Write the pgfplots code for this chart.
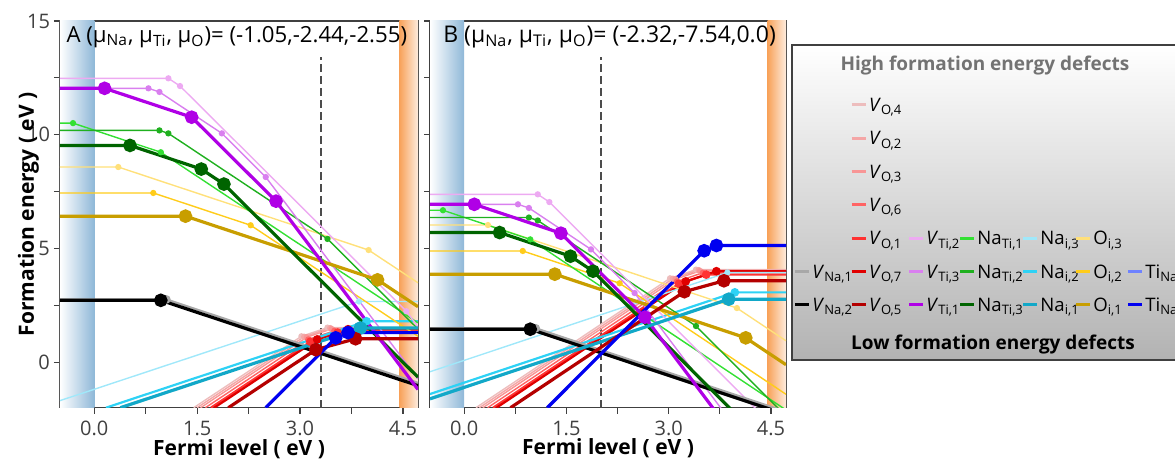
\documentclass[border=0pt]{standalone}
\usepackage{fontspec}
\setmainfont{Open Sans}
\usepackage{pgfplots}
\pgfplotsset{compat=1.18}
\definecolor{vo4}{HTML}{EDBDBD}
\definecolor{vo2}{HTML}{F4A6A6}
\definecolor{vo3}{HTML}{F89696}
\definecolor{vo6}{HTML}{FF6464}
\definecolor{vo1}{HTML}{FF3232}
\definecolor{vo7}{HTML}{E00000}
\definecolor{vo5}{HTML}{B40000}
\definecolor{vti2}{HTML}{EDAAF2}
\definecolor{vti3}{HTML}{D97FEF}
\definecolor{vti1}{HTML}{B000E6}
\definecolor{nati1}{HTML}{33E033}
\definecolor{nati2}{HTML}{1FB01F}
\definecolor{nati3}{HTML}{006400}
\definecolor{nai3}{HTML}{A0E8FA}
\definecolor{nai2}{HTML}{2ED2F5}
\definecolor{nai1}{HTML}{12A8C8}
\definecolor{oi3}{HTML}{FFE07A}
\definecolor{oi2}{HTML}{FFCC1A}
\definecolor{oi1}{HTML}{C89E00}
\definecolor{tina2}{HTML}{6E82FF}
\definecolor{tina1}{HTML}{0000F0}
\definecolor{vna1}{HTML}{A8A8A8}
\definecolor{bandblue}{HTML}{8FB8D8}
\definecolor{bandorange}{HTML}{F8A25A}
\definecolor{framegray}{HTML}{404040}
\tikzset{dashv/.style={black!70, line width=1pt, dash pattern=on 4pt off 2pt}}
\pgfplotsset{
  tl/.style={line width=0.7pt, mark=*, mark size=1.2pt, mark options={solid}},
  md/.style={line width=1.1pt, mark=*, mark size=1.6pt, mark options={solid}},
  tk/.style={line width=1.6pt, mark=*, mark size=2.6pt, mark options={solid}},
  panel/.style={
    anchor=south west, scale only axis, height=193.35pt,
    xmin=-0.5, xmax=4.72, ymin=-2, ymax=15, clip=true,
    axis line style={framegray, line width=0.75pt},
    tick style={framegray, line width=0.6pt}, tick align=outside, tick pos=left,
    major tick length=3pt,
    xtick={0,0.75,1.5,2.25,3,3.75,4.5}, xticklabels={0.0,{},1.5,{},3.0,{},4.5},
    ytick={0,2.5,5,7.5,10,12.5,15},
    ticklabel style={font=\fontsize{10}{11}\selectfont, text=framegray},
    yticklabel style={xshift=1.5pt},
    /pgf/number format/assume math mode=true,
    xlabel={\textbf{Fermi level ( eV )}},
    label style={font=\fontsize{10.5}{12}\selectfont},
    xlabel style={at={(axis description cs:0.5,-0.106)}, anchor=center},
  },
}
\newcommand{\legfont}{\fontsize{9.3}{10}\selectfont}
\newcommand{\lent}[4]{\draw[#3, line width=1.5pt] (#1,#2) -- ++(14,0); \node[anchor=base west, inner sep=0pt, font=\legfont] at (#1+17,#2+6.5) {#4};}
\begin{document}
\begin{tikzpicture}
\useasboundingbox (0,0) rectangle (587.5pt,229.5pt);
% ---------------- Panel A ----------------
\begin{axis}[panel, at={(30pt,25.65pt)}, width=179pt,
  yticklabels={0,{},5,{},10,{},15},
  ylabel={\textbf{Formation energy ( eV )}},
  ylabel style={at={(axis description cs:-0.088,0.5)}, anchor=center, rotate=0},
]
\fill[left color=white, right color=bandblue] (axis cs:-0.5,-2) rectangle (axis cs:0,15);
\fill[left color=bandorange, right color=bandorange!20] (axis cs:4.45,-2) rectangle (axis cs:4.72,15);
\draw[dashv] (axis cs:3.30,-2) -- (axis cs:3.30,13.4);
% thin
\addplot[tl, color=vo4, mark indices={2,3}] coordinates {(1.45,-2)(3.02,1.14)(3.40,1.52)(4.72,1.52)};
\addplot[tl, color=vo2, mark indices={2,3}] coordinates {(1.50,-2)(3.06,1.12)(3.44,1.50)(4.72,1.50)};
\addplot[tl, color=vo3, mark indices={2,3}] coordinates {(1.55,-2)(3.10,1.10)(3.46,1.46)(4.72,1.46)};
\addplot[tl, color=vo6, mark indices={2,3}] coordinates {(1.62,-2)(3.12,1.00)(3.50,1.38)(4.72,1.38)};
\addplot[md, color=vo1, mark indices={2,3}] coordinates {(1.70,-2)(3.15,0.90)(3.55,1.30)(4.72,1.30)};
\addplot[md, color=vo7, mark indices={2,3}] coordinates {(1.75,-2)(3.25,1.00)(3.70,1.45)(4.72,1.45)};
\addplot[tl, color=nai3, mark indices={2}] coordinates {(-0.5,-1.69)(3.86,2.67)(4.72,2.67)};
\addplot[md, color=nai2, mark indices={2}] coordinates {(0.17,-2)(3.97,1.80)(4.72,1.80)};
\addplot[tl, color=oi3, mark indices={2,3}] coordinates {(-0.5,8.58)(0.35,8.58)(4.0,4.93)(4.72,3.49)};
\addplot[tl, color=oi2, mark indices={2,3}] coordinates {(-0.5,7.44)(0.86,7.44)(2.28,6.02)(4.72,1.14)};
\addplot[tl, color=nati1, mark indices={2,3}] coordinates {(-0.5,10.51)(-0.31,10.51)(0.97,9.23)(4.72,1.73)};
\addplot[tl, color=nati2, mark indices={2,3,4}] coordinates {(-0.5,10.19)(0.95,10.19)(1.08,10.06)(3.40,5.42)(4.72,1.46)};
\addplot[tl, color=vti2, mark indices={2,3,4}] coordinates {(-0.5,12.48)(1.08,12.48)(1.25,12.14)(4.55,2.24)(4.72,1.56)};
\addplot[tl, color=vti3, mark indices={2,3,4,5}] coordinates {(-0.5,12.04)(0.79,12.04)(0.95,11.88)(1.86,10.06)(2.5,8.14)(4.72,-0.74)};
\addplot[md, color=vna1, mark indices={2}] coordinates {(-0.5,2.76)(1.05,2.76)(4.72,-0.91)};
\addplot[md, color=tina2, mark indices={2,3}] coordinates {(2.5,-2)(3.52,1.07)(3.70,1.30)(4.72,1.30)};
% thick
\addplot[tk, color=black, mark indices={2}] coordinates {(-0.5,2.72)(0.97,2.72)(4.72,-1.03)};
\addplot[tk, color=oi1, mark indices={2,3}] coordinates {(-0.5,6.42)(1.33,6.42)(4.13,3.62)(4.72,2.44)};
\addplot[tk, color=nati3, mark indices={2,3,4}] coordinates {(-0.5,9.53)(0.52,9.53)(1.56,8.49)(1.89,7.83)(4.72,-0.66)};
\addplot[tk, color=vti1, mark indices={2,3,4}] coordinates {(-0.5,12.04)(0.15,12.04)(1.42,10.77)(2.65,7.08)(4.72,-1.2)};
\addplot[tk, color=nai1, mark indices={2}] coordinates {(0.38,-2)(3.88,1.50)(4.72,1.50)};
\addplot[tk, color=vo5, mark indices={2,3}] coordinates {(1.955,-2)(3.23,0.55)(3.81,1.03)(4.72,1.03)};
\addplot[tk, color=tina1, mark indices={2,3}] coordinates {(2.5,-2)(3.52,1.07)(3.70,1.30)(4.72,1.30)};
\node[anchor=west, inner sep=0pt, font=\fontsize{11.1}{12}\selectfont] at (axis cs:-0.41,14.3) {A (μ\textsubscript{Na}, μ\textsubscript{Ti}, μ\textsubscript{O})= (-1.05,-2.44,-2.55)};
\end{axis}
% ---------------- Panel B ----------------
\begin{axis}[panel, at={(215pt,25.65pt)}, width=178pt,
  yticklabels={},
]
\fill[left color=white, right color=bandblue] (axis cs:-0.5,-2) rectangle (axis cs:0,15);
\fill[left color=bandorange, right color=bandorange!20] (axis cs:4.45,-2) rectangle (axis cs:4.72,15);
\draw[dashv] (axis cs:2.01,-2) -- (axis cs:2.01,13.4);
% thin
\addplot[tl, color=vo4, mark indices={2,3}] coordinates {(0.175,-2)(3.02,3.69)(3.40,4.07)(4.72,4.07)};
\addplot[tl, color=vo2, mark indices={2,3}] coordinates {(0.225,-2)(3.06,3.67)(3.44,4.05)(4.72,4.05)};
\addplot[tl, color=vo3, mark indices={2,3}] coordinates {(0.275,-2)(3.10,3.65)(3.46,4.01)(4.72,4.01)};
\addplot[tl, color=vo6, mark indices={2,3}] coordinates {(0.345,-2)(3.12,3.55)(3.50,3.93)(4.72,3.93)};
\addplot[md, color=vo1, mark indices={2,3}] coordinates {(0.425,-2)(3.15,3.45)(3.55,3.85)(4.72,3.85)};
\addplot[md, color=vo7, mark indices={2,3}] coordinates {(0.475,-2)(3.25,3.55)(3.70,4.00)(4.72,4.00)};
\addplot[tl, color=nai3, mark indices={2}] coordinates {(-0.5,-0.42)(3.86,3.94)(4.72,3.94)};
\addplot[md, color=nai2, mark indices={2}] coordinates {(-0.5,-1.40)(3.97,3.07)(4.72,3.07)};
\addplot[tl, color=oi3, mark indices={2,3}] coordinates {(-0.5,6.03)(0.35,6.03)(4.0,2.38)(4.72,0.94)};
\addplot[tl, color=oi2, mark indices={2,3}] coordinates {(-0.5,4.89)(0.86,4.89)(2.28,3.47)(4.72,-1.41)};
\addplot[tl, color=nati1, mark indices={2,3}] coordinates {(-0.5,6.68)(-0.31,6.68)(0.97,5.40)(4.72,-2.10)};
\addplot[tl, color=nati2, mark indices={2,3,4}] coordinates {(-0.5,6.36)(0.95,6.36)(1.08,6.23)(3.40,1.59)(4.72,-2.37)};
\addplot[tl, color=vti2, mark indices={2,3}] coordinates {(-0.5,7.38)(1.08,7.38)(1.25,7.04)(4.55,-2.86)(4.72,-3.54)};
\addplot[tl, color=vti3, mark indices={2,3,4,5}] coordinates {(-0.5,6.94)(0.79,6.94)(0.95,6.78)(1.86,4.96)(2.5,3.04)(4.72,-5.84)};
\addplot[md, color=vna1, mark indices={2}] coordinates {(-0.5,1.49)(1.05,1.49)(4.72,-2.18)};
\addplot[md, color=tina2, mark indices={2,3}] coordinates {(1.22,-2)(3.52,4.90)(3.70,5.13)(4.72,5.13)};
% thick
\addplot[tk, color=black, mark indices={2}] coordinates {(-0.5,1.45)(0.97,1.45)(4.72,-2.30)};
\addplot[tk, color=oi1, mark indices={2,3}] coordinates {(-0.5,3.87)(1.33,3.87)(4.13,1.07)(4.72,-0.11)};
\addplot[tk, color=nati3, mark indices={2,3,4}] coordinates {(-0.5,5.70)(0.52,5.70)(1.56,4.66)(1.89,4.00)(4.72,-4.49)};
\addplot[tk, color=vti1, mark indices={2,3,4}] coordinates {(-0.5,6.94)(0.15,6.94)(1.42,5.67)(2.65,1.98)(4.72,-6.30)};
\addplot[tk, color=nai1, mark indices={2}] coordinates {(-0.5,-1.61)(3.88,2.77)(4.72,2.77)};
\addplot[tk, color=vo5, mark indices={2,3}] coordinates {(0.68,-2)(3.23,3.10)(3.81,3.58)(4.72,3.58)};
\addplot[tk, color=tina1, mark indices={2,3}] coordinates {(1.22,-2)(3.52,4.90)(3.70,5.13)(4.72,5.13)};
\node[anchor=west, inner sep=0pt, font=\fontsize{11.5}{12}\selectfont] at (axis cs:-0.31,14.3) {B (μ\textsubscript{Na}, μ\textsubscript{Ti}, μ\textsubscript{O})= (-2.32,-7.54,0.0)};
\end{axis}
% ---------------- Legend box ----------------
\shade[top color=white, bottom color=black!30] (395.85pt,49.5pt) rectangle (600pt,207pt);
\draw[black!75, line width=0.8pt] (395.85pt,49.5pt) rectangle (600pt,207pt);
\begin{scope}[yshift=229.5pt, x=0.5pt, y=-0.5pt]
\node[font=\fontsize{9.5}{10}\selectfont\bfseries, text=black!55] at (985,66) {High formation energy defects};
\node[font=\fontsize{9.5}{10}\selectfont\bfseries, text=black] at (993,345) {Low formation energy defects};
\lent{851.7}{105}{vo4}{\textit{V}\textsubscript{O,4}}
\lent{851.7}{138.3}{vo2}{\textit{V}\textsubscript{O,2}}
\lent{851.7}{171.7}{vo3}{\textit{V}\textsubscript{O,3}}
\lent{851.7}{205}{vo6}{\textit{V}\textsubscript{O,6}}
\lent{851.7}{238.3}{vo1}{\textit{V}\textsubscript{O,1}}
\lent{909}{238.3}{vti2}{\textit{V}\textsubscript{Ti,2}}
\lent{960}{238.3}{nati1}{Na\textsubscript{Ti,1}}
\lent{1023}{238.3}{nai3}{Na\textsubscript{i,3}}
\lent{1076}{238.3}{oi3}{O\textsubscript{i,3}}
\lent{795}{271.7}{vna1}{\textit{V}\textsubscript{Na,1}}
\lent{851.7}{271.7}{vo7}{\textit{V}\textsubscript{O,7}}
\lent{909}{271.7}{vti3}{\textit{V}\textsubscript{Ti,3}}
\lent{960}{271.7}{nati2}{Na\textsubscript{Ti,2}}
\lent{1023}{271.7}{nai2}{Na\textsubscript{i,2}}
\lent{1076}{271.7}{oi2}{O\textsubscript{i,2}}
\lent{1128}{271.7}{tina2}{Ti\textsubscript{Na,2}}
\lent{795}{305}{black}{\textit{V}\textsubscript{Na,2}}
\lent{851.7}{305}{vo5}{\textit{V}\textsubscript{O,5}}
\lent{909}{305}{vti1}{\textit{V}\textsubscript{Ti,1}}
\lent{960}{305}{nati3}{Na\textsubscript{Ti,3}}
\lent{1023}{305}{nai1}{Na\textsubscript{i,1}}
\lent{1076}{305}{oi1}{O\textsubscript{i,1}}
\lent{1128}{305}{tina1}{Ti\textsubscript{Na,1}}
\end{scope}
\end{tikzpicture}
\end{document}
